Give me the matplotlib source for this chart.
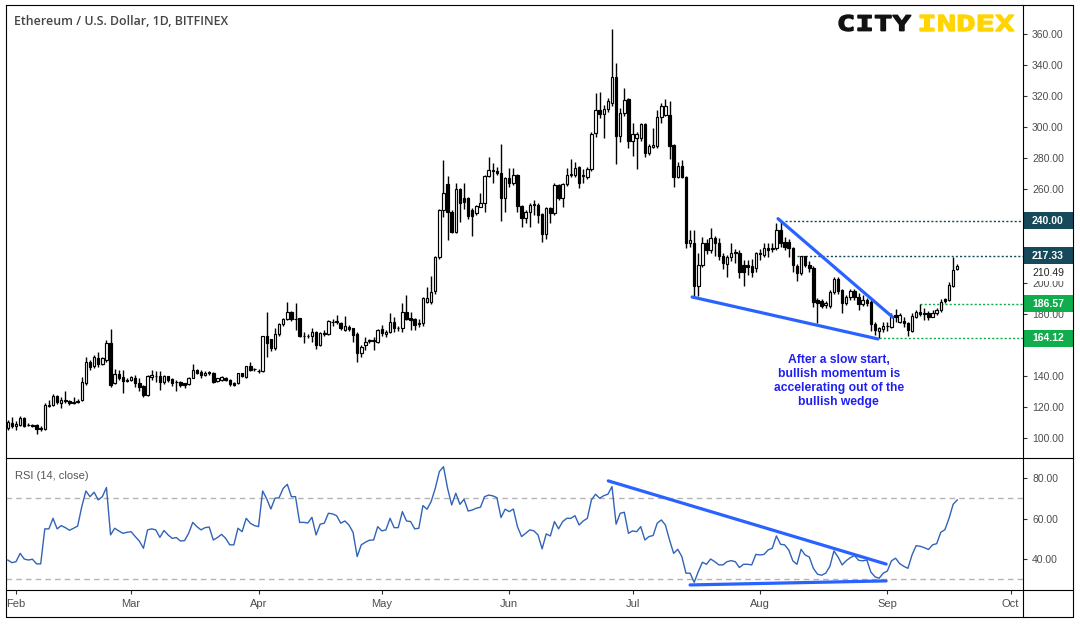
import matplotlib
matplotlib.use("Agg")
import matplotlib.pyplot as plt
import matplotlib.transforms as mtransforms
from matplotlib.font_manager import FontProperties
from matplotlib.lines import Line2D
from matplotlib.patches import PathPatch, Rectangle
from matplotlib.textpath import TextPath
import numpy as np

# ETH/USD daily candles, 30 Jan 2019 .. 18 Sep 2019
opens = [106.2, 109.9, 108.1, 108.4, 112.7, 108.2, 108.4, 108.4, 105.8, 105.6,
         120.6, 121.0, 127.0, 122.3, 123.8, 123.8, 122.5, 123.4, 124.4, 135.6,
         149.1, 146.5, 151.3, 148.0, 150.2, 160.9, 135.2, 141.2, 139.5, 136.9,
         137.3, 138.4, 135.2, 133.5, 127.7, 139.5, 140.2, 139.9, 136.0, 139.9,
         137.9, 136.2, 135.8, 135.2, 134.7, 139.0, 143.8, 142.7, 140.5, 142.0,
         142.0, 136.9, 137.7, 139.0, 137.7, 135.6, 135.2, 141.6, 139.5, 146.3,
         144.5, 143.5, 143.1, 165.6, 163.5, 158.3, 166.7, 173.4, 176.4, 181.3,
         176.4, 177.0, 165.6, 165.6, 165.6, 168.6, 159.8, 167.3, 167.3, 174.6,
         174.6, 174.2, 169.5, 171.6, 170.6, 167.3, 154.5, 159.9, 162.7, 162.5,
         162.0, 169.9, 166.9, 168.4, 174.9, 170.6, 170.6, 181.3, 177.0, 176.6,
         173.6, 173.8, 187.7, 187.7, 194.8, 216.3, 246.7, 263.5, 245.7, 232.8,
         260.0, 254.2, 254.2, 246.7, 245.0, 248.9, 251.0, 268.6, 272.3, 271.8,
         270.3, 254.2, 267.1, 263.9, 269.3, 249.3, 241.4, 245.7, 250.0, 250.0,
         244.2, 231.1, 247.8, 245.0, 262.8, 254.2, 263.5, 269.3, 269.3, 274.2,
         268.5, 268.2, 272.9, 296.1, 311.1, 308.3, 311.5, 315.8, 332.1, 294.6,
         308.9, 317.9, 291.1, 292.9, 292.9, 302.1, 283.2, 287.1, 287.9, 306.4,
         307.9, 307.9, 288.6, 268.2, 275.0, 268.2, 225.7, 225.7, 197.9, 211.4,
         225.7, 221.0, 228.5, 225.3, 217.2, 212.0, 216.3, 220.0, 218.9, 211.4,
         211.4, 210.7, 209.2, 219.3, 217.8, 222.1, 221.5, 222.1, 233.9, 226.3,
         226.3, 222.1, 210.7, 206.4, 216.9, 211.4, 209.2, 188.9, 188.4, 185.6,
         185.0, 194.2, 202.1, 195.3, 187.1, 190.6, 194.9, 190.6, 186.3, 188.9,
         187.8, 173.4, 169.1, 170.0, 172.1, 171.7, 179.2, 174.9, 175.5, 173.8,
         169.1, 178.1, 181.3, 180.7, 180.7, 178.1, 180.3, 182.4, 189.3, 188.9,
         197.9, 208.6]
highs = [111.6, 113.3, 111.0, 114.2, 113.5, 109.5, 109.0, 109.0, 107.7, 122.3,
         124.4, 128.7, 127.5, 126.6, 130.5, 124.5, 126.6, 125.0, 139.5, 151.9,
         150.0, 153.4, 155.5, 152.0, 163.1, 169.9, 144.2, 143.8, 143.8, 139.0,
         140.0, 140.5, 138.4, 134.0, 140.5, 143.8, 142.9, 142.9, 140.5, 140.0,
         138.5, 137.3, 136.5, 135.5, 139.5, 147.6, 144.5, 143.8, 143.0, 143.3,
         142.5, 139.0, 140.0, 139.5, 138.0, 136.0, 142.0, 142.0, 146.5, 149.1,
         145.0, 144.2, 166.0, 181.1, 164.0, 170.6, 174.2, 177.5, 187.7, 182.0,
         187.1, 177.5, 168.6, 167.0, 170.6, 169.0, 168.5, 169.5, 176.0, 176.4,
         179.1, 175.0, 178.5, 172.5, 171.0, 168.0, 160.0, 165.2, 164.0, 165.2,
         170.5, 172.7, 169.5, 180.7, 178.1, 172.0, 186.7, 192.0, 181.3, 177.0,
         176.4, 190.5, 197.4, 204.3, 217.0, 247.5, 278.9, 268.6, 247.0, 264.3,
         261.0, 264.3, 255.0, 248.0, 250.0, 257.9, 269.0, 281.1, 276.8, 274.6,
         289.2, 268.0, 273.5, 273.5, 270.0, 250.0, 246.5, 251.5, 253.2, 251.5,
         245.0, 248.5, 249.0, 263.9, 263.5, 264.0, 273.5, 279.3, 277.8, 275.0,
         272.9, 274.6, 297.1, 322.2, 322.6, 314.3, 318.6, 363.0, 341.1, 312.2,
         325.0, 319.0, 302.5, 297.0, 302.9, 303.0, 289.0, 299.3, 311.1, 315.4,
         317.9, 317.1, 289.0, 277.8, 278.9, 268.6, 233.9, 233.9, 218.9, 229.6,
         228.0, 235.0, 230.0, 228.5, 219.0, 218.0, 225.7, 222.0, 221.0, 214.6,
         214.6, 215.0, 220.0, 221.5, 225.7, 225.3, 225.7, 238.2, 240.0, 229.6,
         228.0, 223.0, 212.0, 217.33, 217.0, 214.0, 210.5, 190.0, 189.5, 188.0,
         195.0, 203.9, 203.5, 196.0, 192.0, 195.7, 196.0, 193.1, 192.1, 190.0,
         188.9, 174.5, 171.7, 174.9, 174.9, 180.3, 182.8, 180.3, 178.1, 174.5,
         180.3, 182.4, 186.57, 183.5, 181.5, 182.4, 183.5, 189.3, 190.0, 200.6,
         216.5, 211.8]
lows = [105.1, 106.2, 105.1, 108.0, 107.0, 107.5, 107.0, 102.6, 104.8, 105.1,
        120.2, 120.5, 122.0, 119.1, 122.3, 121.0, 122.0, 122.5, 124.0, 134.0,
        144.0, 144.8, 145.9, 147.0, 149.1, 133.0, 134.7, 137.3, 129.2, 136.0,
        136.5, 133.0, 130.5, 126.6, 127.0, 137.3, 136.2, 130.9, 135.0, 136.2,
        133.5, 130.5, 133.0, 132.4, 134.0, 138.5, 141.0, 139.0, 140.0, 140.5,
        135.5, 136.0, 137.0, 136.8, 133.5, 133.8, 135.0, 139.5, 139.0, 143.3,
        143.5, 142.2, 142.5, 152.3, 156.0, 157.0, 166.0, 172.0, 176.0, 175.5,
        169.5, 165.2, 160.9, 164.5, 162.0, 157.1, 159.0, 165.6, 166.5, 172.1,
        173.4, 169.5, 169.0, 169.0, 162.0, 149.1, 152.0, 156.6, 161.0, 156.6,
        161.5, 166.0, 165.0, 167.4, 168.4, 169.0, 168.4, 175.9, 169.5, 169.5,
        171.7, 172.0, 186.7, 186.0, 193.0, 215.0, 242.4, 227.4, 231.7, 231.7,
        239.2, 247.2, 240.7, 230.0, 243.5, 248.5, 245.7, 268.2, 264.3, 269.3,
        239.9, 245.7, 261.7, 263.0, 245.7, 235.6, 238.6, 236.0, 243.5, 238.2,
        226.4, 227.9, 238.2, 243.5, 253.2, 248.9, 262.0, 268.0, 268.0, 260.7,
        264.3, 267.0, 272.0, 293.9, 306.0, 292.9, 310.0, 314.0, 276.1, 290.7,
        307.0, 286.4, 281.5, 272.9, 291.0, 281.1, 282.0, 286.4, 287.0, 302.9,
        307.0, 279.3, 261.7, 267.1, 267.1, 222.5, 223.2, 191.0, 191.4, 210.3,
        218.5, 219.0, 217.2, 214.6, 208.6, 203.9, 214.0, 212.4, 202.8, 197.9,
        204.9, 203.9, 207.0, 214.6, 216.3, 216.3, 220.0, 221.0, 223.0, 221.0,
        216.7, 207.1, 201.3, 205.0, 210.0, 207.0, 184.5, 173.8, 183.5, 184.0,
        183.5, 193.0, 193.0, 180.3, 185.6, 189.0, 189.0, 182.4, 185.0, 185.0,
        169.1, 166.3, 164.12, 168.5, 169.1, 171.0, 174.9, 174.0, 171.7, 165.7,
        168.0, 177.0, 178.6, 176.0, 176.0, 177.7, 179.0, 181.3, 186.7, 188.0,
        197.0, 208.0]
closes = [110.5, 107.7, 109.0, 112.7, 107.7, 108.6, 108.1, 105.6, 106.2, 121.0,
          121.0, 127.0, 123.4, 124.4, 124.4, 122.3, 123.0, 124.0, 136.2, 149.1,
          145.9, 151.9, 147.6, 151.3, 160.9, 134.1, 141.2, 139.0, 136.7, 137.7,
          139.5, 135.2, 132.6, 127.7, 139.9, 140.5, 139.9, 135.8, 139.9, 137.3,
          135.2, 136.0, 133.9, 133.9, 139.0, 143.8, 141.6, 140.5, 142.0, 142.2,
          136.2, 138.4, 139.5, 137.3, 134.7, 134.3, 141.6, 139.9, 146.3, 143.8,
          144.2, 143.1, 165.6, 160.9, 158.3, 166.9, 173.4, 176.8, 181.1, 176.4,
          176.6, 165.6, 165.8, 166.0, 168.6, 159.8, 167.8, 167.6, 175.5, 175.0,
          175.2, 170.6, 172.1, 169.9, 166.3, 154.5, 158.5, 162.0, 163.3, 163.0,
          169.5, 167.4, 168.4, 174.9, 170.6, 171.0, 181.3, 176.4, 175.9, 172.7,
          174.0, 189.9, 189.9, 194.2, 216.3, 246.7, 257.9, 245.7, 232.8, 260.0,
          251.5, 252.1, 242.9, 242.9, 249.3, 251.5, 268.6, 272.5, 272.0, 270.3,
          254.2, 267.1, 263.9, 269.3, 249.3, 241.4, 245.7, 250.0, 250.3, 243.5,
          231.1, 247.8, 244.6, 262.8, 254.2, 263.3, 269.3, 269.6, 273.5, 264.3,
          269.6, 272.9, 295.6, 311.1, 308.3, 311.5, 317.1, 332.1, 294.6, 308.9,
          317.5, 291.1, 295.6, 295.6, 302.1, 283.2, 287.9, 288.6, 306.4, 313.7,
          313.7, 287.9, 268.2, 275.0, 267.8, 225.7, 227.5, 197.9, 211.4, 225.7,
          221.0, 228.5, 225.3, 217.2, 212.4, 216.3, 219.3, 218.9, 207.1, 207.1,
          210.3, 207.1, 218.9, 218.5, 222.1, 221.0, 222.1, 233.9, 225.7, 223.2,
          222.1, 211.4, 206.4, 216.9, 211.4, 209.2, 187.8, 187.1, 185.0, 186.7,
          194.2, 202.1, 194.9, 187.1, 191.0, 194.9, 190.6, 186.3, 188.9, 186.7,
          173.4, 169.5, 170.6, 172.1, 172.4, 177.7, 177.7, 179.2, 173.8, 169.5,
          178.6, 181.3, 179.8, 179.8, 177.7, 180.7, 182.4, 187.8, 188.4, 198.5,
          208.2, 210.49]
rsi = [39.6, 38.3, 38.8, 42.9, 40.1, 39.6, 40.0, 37.7, 37.7, 55.0,
       55.0, 60.2, 55.0, 56.6, 55.6, 54.3, 55.3, 56.4, 66.0, 73.7,
       70.9, 73.1, 69.3, 70.9, 75.4, 52.0, 55.3, 54.0, 52.8, 53.3,
       53.6, 51.2, 49.0, 45.4, 54.5, 55.0, 54.5, 50.8, 54.2, 52.0,
       50.3, 50.7, 49.0, 49.2, 52.8, 58.2, 56.1, 54.5, 55.6, 55.9,
       49.5, 50.7, 52.3, 50.3, 47.1, 47.1, 55.3, 53.6, 60.2, 57.8,
       56.6, 56.1, 73.7, 69.8, 64.8, 70.1, 70.4, 75.0, 77.0, 70.9,
       70.9, 58.2, 58.2, 57.9, 60.7, 52.0, 57.3, 57.8, 62.7, 62.4,
       61.5, 57.8, 58.9, 56.9, 53.3, 41.3, 47.1, 48.4, 49.4, 49.5,
       56.1, 54.0, 54.5, 60.2, 55.6, 55.6, 63.5, 58.9, 58.6, 55.0,
       55.3, 66.5, 64.7, 68.5, 75.0, 83.3, 85.7, 75.0, 66.8, 72.6,
       67.1, 69.6, 63.8, 64.3, 65.2, 65.7, 70.9, 71.7, 71.3, 70.4,
       60.6, 64.7, 63.5, 64.8, 56.1, 51.2, 52.8, 54.5, 54.0, 52.0,
       45.1, 52.5, 51.5, 58.6, 55.0, 58.6, 60.2, 60.2, 61.5, 56.9,
       58.9, 60.2, 69.3, 72.1, 70.1, 71.4, 72.1, 75.9, 57.3, 62.7,
       63.2, 52.8, 54.0, 53.6, 56.1, 49.5, 51.2, 51.7, 57.8, 59.4,
       56.9, 49.5, 42.9, 44.9, 41.3, 33.1, 33.1, 28.6, 33.9, 38.5,
       37.5, 40.1, 38.8, 37.2, 37.2, 38.8, 39.3, 38.8, 35.9, 37.5,
       37.5, 37.2, 42.4, 42.1, 42.4, 44.6, 45.4, 51.5, 47.4, 47.1,
       44.6, 39.2, 37.5, 44.9, 42.1, 41.1, 35.5, 32.6, 32.1, 33.1,
       36.4, 44.1, 41.1, 37.2, 39.3, 40.8, 41.8, 39.5, 39.2, 39.6,
       33.6, 31.3, 30.6, 33.1, 34.2, 39.2, 40.5, 37.8, 36.5, 35.5,
       42.1, 46.7, 46.4, 45.7, 44.8, 47.1, 47.7, 53.3, 54.6, 60.2,
       67.1, 69.3]

month_pos = [2, 30, 61, 91, 122, 152, 183, 214, 244]
month_names = ["Feb", "Mar", "Apr", "May", "Jun", "Jul", "Aug", "Sep", "Oct"]
price_ticks = list(range(100, 361, 20))
hidden_ticks = [160, 220, 240]   # covered by the level boxes on the chart
rsi_ticks = [40, 60, 80]

levels = [240.00, 217.33, 186.57, 164.12]
level_from = [189, 192, 222, 211]
last_price = 210.49

# wedge trendlines as (day index, value) pairs
wedge_top = ([187.4, 215.3], [241.2, 177.8])
wedge_bottom = ([166.5, 211.7], [190.8, 163.8])
rsi_top = ([146.1, 213.7], [78.7, 37.6])
rsi_bottom = ([166.0, 213.7], [27.3, 29.3])

W, H = 1080, 624
BLUE = "#2962ff"
TEAL = "#164a5b"
GREEN = "#10ad4c"
GREY = "#4d4d4d"
plt.rcParams["font.family"] = ["Liberation Sans", "DejaVu Sans"]

fig = plt.figure(figsize=(W / 100, H / 100), dpi=100)


def px_box(l, t, r, b):
    return [l / W, 1 - b / H, (r - l) / W, (b - t) / H]


ax = fig.add_axes(px_box(6, 5, 1023, 458))
ax_rsi = fig.add_axes(px_box(6, 458, 1023, 590))

o, h, l, c = map(np.array, (opens, highs, lows, closes))
x = np.arange(len(o))
up = c >= o
body_lo = np.minimum(o, c)
body_h = np.maximum(np.abs(c - o), 0.35)

ax.vlines(x, l, h, color="black", lw=1.0, zorder=2)
ax.bar(x[up], body_h[up], bottom=body_lo[up], width=0.6, facecolor="white",
       edgecolor="black", lw=0.85, zorder=3)
ax.bar(x[~up], body_h[~up], bottom=body_lo[~up], width=0.6, facecolor="black",
       edgecolor="black", lw=0.85, zorder=3)

ax.set_xlim(-0.44, 247.0)
ax.set_ylim(87.2, 378.7)
ax_rsi.set_xlim(-0.44, 247.0)
ax_rsi.set_ylim(24.8, 90.0)

for a in (ax, ax_rsi):
    for s in a.spines.values():
        s.set_visible(False)
    a.yaxis.tick_right()
    a.tick_params(axis="y", direction="out", length=3, width=0.8, color="#333333",
                  pad=3.5, labelsize=7.5, labelcolor=GREY)

ax.set_yticks(price_ticks)
ax.set_yticklabels(["" if v in hidden_ticks else f"{v:.2f}" for v in price_ticks])
ax.tick_params(axis="x", bottom=False, labelbottom=False)

# wedge
ax.plot(*wedge_top, color=BLUE, lw=2.3, solid_capstyle="round", zorder=5)
ax.plot(*wedge_bottom, color=BLUE, lw=2.3, solid_capstyle="round", zorder=5)

# levels + price labels
yx = mtransforms.blended_transform_factory(mtransforms.IdentityTransform(), ax.transData)
unit = (378.7 - 87.2) / 453.0
lbl_y = last_price - 6.4 * unit
ax.add_patch(Rectangle((1024, lbl_y - 8.5 * unit), 48, 17 * unit, transform=yx,
                       facecolor="white", edgecolor="none", clip_on=False, zorder=6))
ax.text(1032, lbl_y, f"{last_price:.2f}", transform=yx, ha="left", va="center",
        color="#222222", fontsize=7.5, clip_on=False, zorder=7)
level_cols = [TEAL, TEAL, GREEN, GREEN]
for lv, start, col in zip(levels, level_from, level_cols):
    ax.hlines(lv, start, 247.0, colors=col, lw=1.0, linestyles=(0, (1.5, 1.5)), zorder=1)
    ax.add_patch(Rectangle((1023.5, lv - 8.5 * unit), 50, 17 * unit, transform=yx,
                           facecolor=col, edgecolor="none", clip_on=False, zorder=8))
    ax.text(1032, lv, f"{lv:.2f}", transform=yx, ha="left", va="center", color="white",
            fontsize=7.5, fontweight="bold", clip_on=False, zorder=9)

ax.text(202.2, 136.7, "After a slow start,\nbullish momentum is\naccelerating out of the\nbullish wedge",
        ha="center", va="center", multialignment="center", color="#1f1ff5",
        fontsize=8.7, fontweight="bold")

# RSI panel
ax_rsi.plot(x, rsi, color="#3163b8", lw=1.0, zorder=3)
ax_rsi.axhline(70, color="#b4b4b4", lw=1.0, dashes=(4, 3), zorder=1)
ax_rsi.axhline(30, color="#b4b4b4", lw=1.0, dashes=(4, 3), zorder=1)
ax_rsi.plot(*rsi_top, color=BLUE, lw=2.3, solid_capstyle="round", zorder=5)
ax_rsi.plot(*rsi_bottom, color=BLUE, lw=2.3, solid_capstyle="round", zorder=5)
ax_rsi.set_yticks(rsi_ticks)
ax_rsi.set_yticklabels([f"{v:.2f}" for v in rsi_ticks])
ax_rsi.set_xticks(month_pos)
ax_rsi.set_xticklabels(month_names)
ax_rsi.tick_params(axis="x", direction="out", length=3, width=0.8, color="#333333",
                   pad=3.5, labelsize=8, labelcolor=GREY)

# frame
ident = mtransforms.IdentityTransform()


def frame_line(xs, ys):
    fig.add_artist(Line2D(xs, [H - v for v in ys], transform=ident, color="black", lw=0.8))


frame_line([6, 1073, 1073, 6, 6], [5, 5, 617, 617, 5])
frame_line([1023, 1023], [5, 617])
frame_line([6, 1073], [458, 458])
frame_line([6, 1073], [590, 590])

# texts
fig.text(14 / W, 1 - 21.5 / H, "Ethereum / U.S. Dollar, 1D, BITFINEX", fontsize=8.9,
         fontweight="semibold", color="#454545", va="center",
         family=["Open Sans", "DejaVu Sans"])
fig.text(15 / W, 1 - 476 / H, "RSI (14, close)", fontsize=8, color="#555555", va="center")


def logo(word, color, x0, x1, top, bottom):
    tp = TextPath((0, 0), word, size=20,
                  prop=FontProperties(family="DejaVu Sans Mono", weight="bold"))
    ext = tp.get_extents()
    tr = (mtransforms.Affine2D().translate(-ext.x0, -ext.y0)
          .scale((x1 - x0) / ext.width, (bottom - top) / ext.height)
          .translate(x0, H - bottom))
    fig.add_artist(PathPatch(tp, transform=tr, facecolor=color, edgecolor=color,
                             lw=1.0, joinstyle="miter"))


logo("CITY", "#111111", 839, 911, 15, 31)
logo("INDEX", "#ffd400", 920, 1014, 15, 31)

fig.savefig("out.png", dpi=100)
